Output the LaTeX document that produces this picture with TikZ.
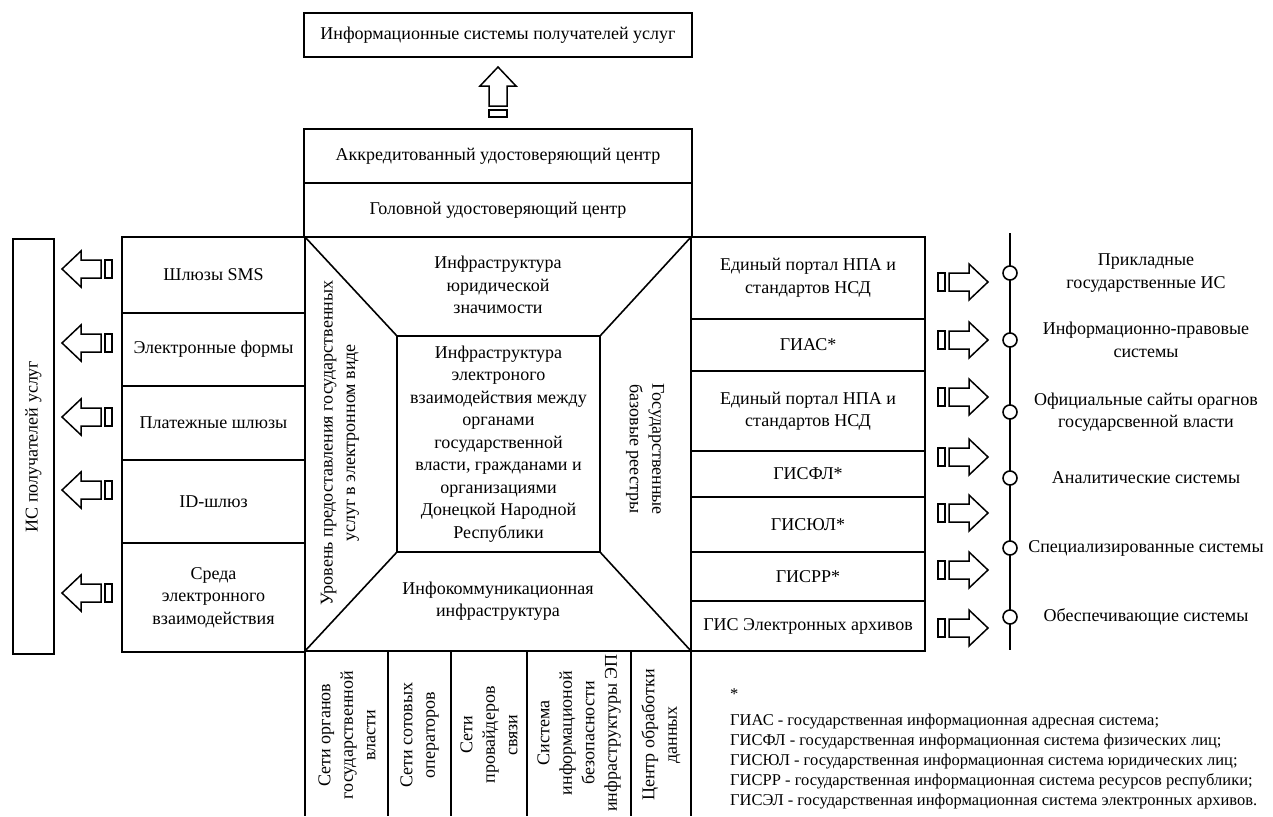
\documentclass[tikz,border=0pt]{standalone}
\usepackage{fontspec}
\setmainfont{Liberation Serif}
\usetikzlibrary{positioning}

\tikzset{
  cell/.style={draw, line width=1.6pt, outer sep=0pt, inner sep=2pt, align=center, anchor=north west},
  side/.style={draw, line width=1.6pt, outer sep=0pt, align=center, rotate=90},
  lbl/.style={align=center},
  edge/.style={line width=1.6pt},
  dot/.style={circle, draw, line width=1.6pt, fill=white, minimum size=14pt, inner sep=0pt},
  hollow/.pic={
    \draw[line width=1.5pt, line join=miter] (0,0) -- (19,-18) -- (19,-9) -- (39,-9) -- (39,9) -- (19,9) -- (19,18) -- cycle;
    \draw[line width=1.5pt] (43,-9) rectangle (50,9);
  }
}

\begin{document}
\begin{tikzpicture}[x=1pt, y=-1pt, font=\fontsize{18}{22.5}\selectfont]
  \useasboundingbox (0,0) rectangle (1273,816);

  % top part
  \node[cell, minimum width=388, minimum height=44] (rcpt) at (304,13) {Информационные системы получателей услуг};
  \pic[rotate=-90] at (498,67) {hollow};
  \node[cell, minimum width=388, minimum height=54] (acc) at (304,129) {Аккредитованный удостоверяющий центр};
  \node[cell, minimum width=388, minimum height=54] (root) at (304,183) {Головной удостоверяющий центр};

  % central square
  \node[cell, minimum width=386, minimum height=414] (core) at (305,237) {};
  \node[cell, minimum width=203, minimum height=216] (mid) at (397,336) {Инфраструктура\\электроного\\взаимодействия между\\органами\\государственной\\власти, гражданами и\\организациями\\Донецкой Народной\\Республики};
  \foreach \c in {north west,north east,south west,south east}
    \draw[edge] (core.\c) -- (mid.\c);
  \node[lbl] (legal) at (498,285) {Инфраструктура\\юридической\\значимости};
  \node[lbl] (telecom) at (498,601) {Инфокоммуникационная\\инфраструктура};
  \node[lbl, rotate=90] (portal) at (340,443) {Уровень предоставления государственных\\услуг в электронном виде};
  \node[lbl, rotate=-90] (registry) at (645,449) {Государственные\\базовые реестры};

  % left column
  \foreach \t/\h/\txt [count=\i] in {237/76/{Шлюзы SMS}, 313/73/{Электронные формы}, 386/74/{Платежные шлюзы}, 460/83/{ID-шлюз}, 543/109/{Среда\\электронного\\взаимодействия}}
    \node[cell, minimum width=183, minimum height=\h] (gate\i) at (122,\t) {\txt};
  \node[side, minimum width=415, minimum height=41] (users) at (33.5,446.5) {ИС получателей услуг};
  \foreach \y in {269,343,417,490,593}
    \pic at (62,\y) {hollow};

  % right column
  \foreach \t/\h/\txt [count=\i] in {237/82/{Единый портал НПА и\\стандартов НСД}, 319/52/{ГИАС*}, 371/80/{Единый портал НПА и\\стандартов НСД}, 451/46/{ГИСФЛ*}, 497/55/{ГИСЮЛ*}, 552/49/{ГИСРР*}, 601/50/{ГИС Электронных архивов}}
    \node[cell, minimum width=234, minimum height=\h] (reg\i) at (691,\t) {\txt};
  \foreach \y in {282,340,397,457,513,570,628}
    \pic[rotate=180] at (988,\y) {hollow};

  % systems axis
  \coordinate (axtop) at (1010,233);
  \coordinate (axbot) at (1010,650);
  \draw[edge] (axtop) -- (axbot);
  \foreach \y/\txt [count=\i] in {273/{Прикладные\\государственные ИС}, 340/{Информационно-правовые\\системы}, 412/{Официальные сайты орагнов\\государсвенной власти}, 478/{Аналитические системы}, 548/{Специализированные системы}, 617/{Обеспечивающие системы}}{
    \node[dot] (p\i) at (1010,\y) {};
    \node[lbl] (sys\i) at (1146,\y) {\txt};
  }

  % bottom columns
  \foreach \x in {305,388,451,527,631,691}
    \draw[edge] (\x,651) -- (\x,816);
  \node[lbl, rotate=90] (net1) at (347,735) {Сети органов\\государственной\\власти};
  \node[lbl, rotate=90] (net2) at (419.5,735) {Сети сотовых\\операторов};
  \node[lbl, rotate=90] (net3) at (489,735) {Сети\\провайдеров\\связи};
  \node[lbl, rotate=90] (net4) at (579,733) {Система\\информационой\\безопасности\\инфраструктуры ЭП};
  \node[lbl, rotate=90] (net5) at (661,735) {Центр обработки\\данных};

  % footnote
  \node[anchor=north west, align=left, inner sep=0pt, font=\fontsize{16.5}{20}\selectfont] (note) at (730,688) {*\\[6pt]ГИАС - государственная информационная адресная система;\\ГИСФЛ - государственная информационная система физических лиц;\\ГИСЮЛ - государственная информационная система юридических лиц;\\ГИСРР - государственная информационная система ресурсов республики;\\ГИСЭЛ - государственная информационная система электронных архивов.};
\end{tikzpicture}
\end{document}
